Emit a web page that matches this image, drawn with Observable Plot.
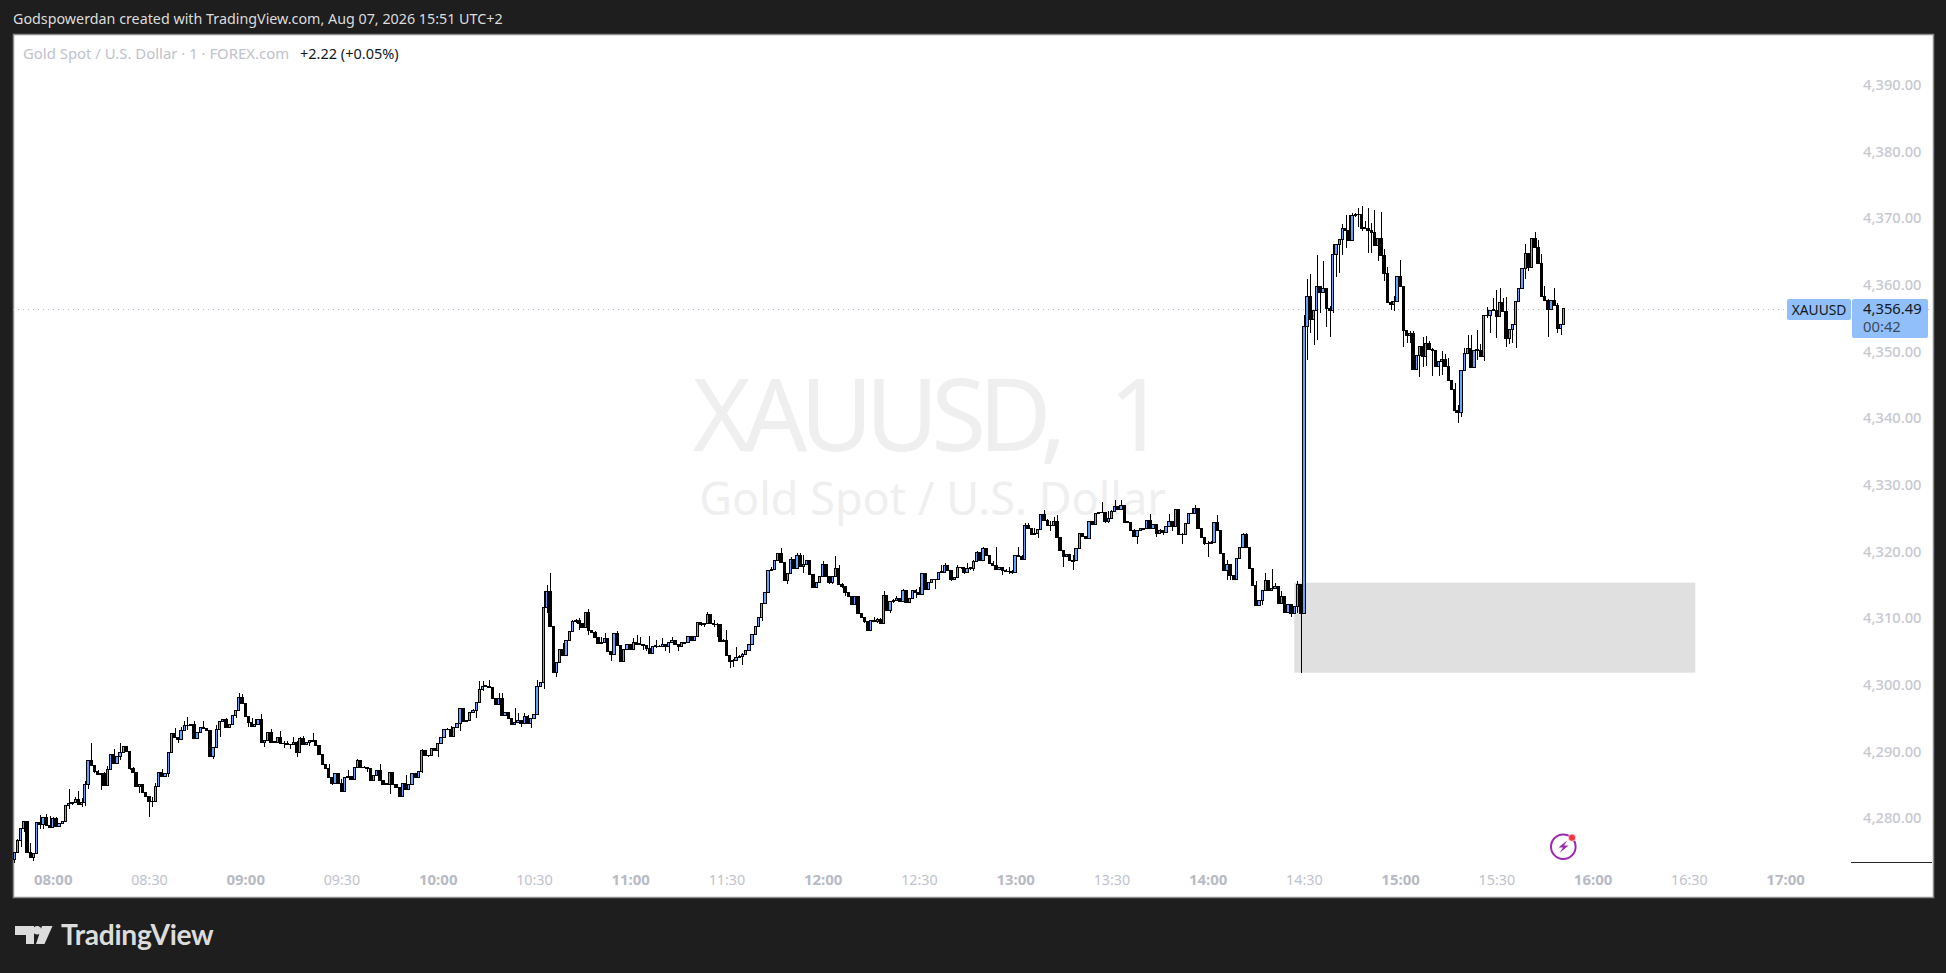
<!DOCTYPE html>
<html><head><meta charset="utf-8">
<style>
html,body{margin:0;padding:0;background:#1e1e1e;width:1946px;height:973px;overflow:hidden}
#chart{position:absolute;left:0;top:0}
.t{position:absolute;white-space:nowrap;font-family:"Noto Sans",sans-serif}
</style>
<script src="https://cdn.jsdelivr.net/npm/d3@7"></script>
<script src="https://cdn.jsdelivr.net/npm/@observablehq/plot@0.6"></script>
</head><body>
<div id="chart"></div>
<div class="t" style="left:13px;top:9px;font-size:14.3px;color:#dcdcdc">Godspowerdan created with TradingView.com, Aug 07, 2026 15:51 UTC+2</div>
<div class="t" style="left:23px;top:43px;font-size:14.9px;color:#c0c2cc">Gold Spot / U.S. Dollar · 1 · FOREX.com</div>
<div class="t" style="left:300px;top:43px;font-size:14.5px;color:#131722">+2.22 (+0.05%)</div>
<div class="t" style="left:1787px;top:299px;width:64px;height:21px;background:#90bff9;border-radius:2px;color:#131722;font-size:13.8px;line-height:21px;text-align:center">XAUUSD</div>
<div class="t" style="left:1852px;top:299px;width:76px;height:39px;background:#90bff9;border-radius:2px;color:#131722;font-size:14.8px;line-height:17.5px;padding:1px 0 0 11px;box-sizing:border-box">4,356.49<br><span style="color:#3d4a5c">00:42</span></div>
<div style="position:absolute;left:1851px;top:861.5px;width:81px;height:1.4px;background:#26282e"></div>
<svg style="position:absolute;left:1548px;top:830px" width="32" height="32" viewBox="0 0 32 32">
  <circle cx="15.3" cy="16.7" r="12.3" fill="none" stroke="#9c27b0" stroke-width="2"/>
  <path d="M19 10.5 L10.5 17.5 H15 L11.5 23 L20.5 15.5 H16 Z" fill="#9c27b0"/>
  <circle cx="24" cy="7.7" r="3.6" fill="#f23645" stroke="#fff" stroke-width="0.6"/>
</svg>
<svg style="position:absolute;left:14px;top:924px" width="40" height="22" viewBox="0 0 40 22">
  <path d="M1 2 H20 V20 H12 V11 H1 Z M28 2 H38.5 L30.5 20 H22 Z" fill="#dcdcdc"/>
  <circle cx="23.2" cy="6.2" r="4.2" fill="#dcdcdc"/>
</svg>
<div class="t" style="left:61px;top:917px;font-family:Lato,sans-serif;font-weight:700;font-size:28.2px;color:#dcdcdc;letter-spacing:-.3px">TradingView</div>
<script>
const startTime = "07:48";
const firstOpen = 4273.8;
const lastPrice = 4356.49;
const yTickValues = [4280,4290,4300,4310,4320,4330,4340,4350,4360,4370,4380,4390];
const xMajorLabels = ["08:00","09:00","10:00","11:00","12:00","13:00","14:00","15:00","16:00","17:00"];
const xMinorLabels = ["08:30","09:30","10:30","11:30","12:30","13:30","14:30","15:30","16:30"];
const zoneTimes = ["14:27","16:32"];
const zonePrices = [4315.3,4301.8];

const closes = [
4274.8,4276.6,4278.4,4279.5,4274.8,4274.1,4274.7,4279.4,4279.1,4280.1,
4278.9,4278.6,4280.0,4278.7,4279.2,4279.5,4281.9,4282.2,4282.3,4282.8,
4282.0,4282.4,4285.1,4288.7,4287.9,4287.0,4286.5,4286.7,4284.9,4287.3,
4289.5,4288.2,4289.3,4289.9,4290.7,4290.0,4287.5,4286.8,4284.8,4285.1,
4283.8,4283.3,4282.5,4282.5,4284.8,4286.8,4286.2,4286.7,4289.9,4292.7,
4292.1,4291.8,4293.2,4293.9,4293.9,4294.0,4292.0,4292.9,4293.6,4293.5,
4293.1,4289.3,4290.6,4293.3,4294.5,4294.8,4293.6,4294.0,4295.4,4296.2,
4298.1,4297.2,4295.2,4294.3,4293.7,4294.0,4294.8,4291.4,4291.6,4292.9,
4291.4,4291.4,4292.1,4291.2,4291.2,4291.0,4291.1,4291.4,4289.9,4292.0,
4291.1,4291.3,4291.6,4291.6,4290.9,4289.5,4288.1,4287.4,4286.1,4285.2,
4286.7,4285.2,4284.0,4286.1,4286.3,4285.8,4287.6,4288.6,4287.6,4287.6,
4287.4,4285.6,4286.4,4287.2,4285.6,4285.1,4285.1,4286.9,4285.1,4284.6,
4283.2,4285.2,4284.3,4285.1,4286.7,4286.1,4287.0,4290.2,4289.4,4289.4,
4290.5,4290.1,4291.2,4292.1,4293.3,4293.3,4292.2,4293.6,4294.2,4296.5,
4294.5,4294.7,4295.8,4296.1,4297.4,4299.3,4299.8,4299.8,4299.6,4297.9,
4297.1,4297.9,4295.4,4295.9,4295.0,4294.1,4294.4,4294.6,4294.2,4295.2,
4294.2,4294.9,4295.6,4299.8,4300.4,4311.6,4314.0,4308.7,4301.8,4303.3,
4305.3,4304.4,4306.7,4308.0,4309.5,4309.6,4309.2,4308.6,4310.9,4308.2,
4307.9,4307.1,4306.2,4306.3,4307.0,4305.0,4304.6,4307.7,4305.9,4303.5,
4305.3,4306.1,4305.3,4306.4,4306.1,4306.1,4305.9,4305.5,4304.7,4305.8,
4305.8,4305.7,4306.0,4305.7,4306.3,4306.6,4306.1,4305.8,4306.3,4306.3,
4307.2,4306.6,4307.2,4309.4,4309.1,4309.2,4310.6,4309.2,4309.0,4309.1,
4306.5,4306.7,4304.4,4303.5,4303.7,4304.1,4304.2,4304.5,4305.2,4306.1,
4307.5,4308.8,4310.1,4312.2,4313.9,4317.2,4317.3,4318.6,4319.7,4318.4,
4315.6,4316.7,4318.8,4317.5,4319.4,4317.7,4318.0,4318.7,4316.6,4314.6,
4315.4,4316.2,4318.0,4316.2,4315.4,4316.2,4317.4,4315.0,4314.7,4313.9,
4313.2,4312.1,4313.2,4310.7,4310.1,4309.5,4308.2,4309.7,4309.5,4309.8,
4309.2,4313.4,4311.2,4312.5,4312.7,4313.0,4312.5,4314.2,4312.3,4313.0,
4314.1,4313.8,4313.6,4316.7,4314.3,4315.4,4315.8,4315.8,4316.9,4316.9,
4317.9,4317.2,4315.8,4316.1,4317.6,4317.6,4316.9,4317.5,4317.5,4318.5,
4319.8,4318.6,4320.4,4319.4,4318.2,4317.9,4317.3,4317.6,4317.2,4317.0,
4317.0,4316.9,4319.4,4319.3,4318.8,4323.9,4323.5,4322.6,4322.7,4323.3,
4325.5,4324.7,4323.9,4323.9,4324.5,4322.1,4320.1,4319.3,4319.5,4318.6,
4318.6,4320.4,4322.7,4322.2,4321.9,4324.5,4324.0,4325.7,4325.8,4325.9,
4324.5,4325.0,4326.0,4326.8,4326.3,4326.9,4324.4,4324.4,4323.2,4322.2,
4323.2,4323.4,4323.4,4324.6,4323.4,4324.0,4322.7,4323.2,4322.9,4323.7,
4324.5,4323.7,4326.3,4322.5,4322.6,4324.2,4325.7,4325.7,4326.4,4323.5,
4322.1,4321.2,4321.2,4321.4,4324.4,4323.2,4319.7,4317.1,4318.0,4316.4,
4315.8,4319.0,4320.6,4322.5,4320.6,4317.5,4314.9,4311.9,4312.7,4314.2,
4315.7,4314.2,4314.5,4314.7,4312.2,4313.3,4310.8,4312.0,4310.7,4311.8,
4315.0,4310.7,4353.8,4358.3,4354.8,4356.2,4359.7,4358.9,4359.5,4356.4,
4356.2,4364.6,4366.1,4366.8,4368.5,4368.2,4366.7,4370.4,4370.5,4370.6,
4368.5,4368.5,4368.2,4367.9,4365.9,4367.0,4364.4,4361.7,4357.3,4357.1,
4357.5,4361.3,4359.7,4353.2,4352.4,4352.7,4347.3,4349.4,4350.8,4349.2,
4351.2,4350.3,4350.1,4347.7,4348.5,4348.8,4347.7,4345.6,4344.3,4341.1,
4340.8,4347.2,4349.7,4350.5,4347.6,4350.2,4350.2,4349.2,4355.4,4355.4,
4356.2,4356.2,4355.2,4357.3,4356.0,4351.9,4353.3,4354.0,4357.5,4359.4,
4362.5,4364.7,4362.6,4367.0,4365.6,4363.2,4358.3,4357.7,4356.3,4357.7,
4356.9,4353.5,4354.0,4356.5];

const highs = [
4274.8,4276.9,4278.4,4279.5,4279.5,4276.2,4274.7,4279.4,4280.4,4280.1,
4280.6,4280.3,4280.2,4280.2,4279.3,4279.5,4281.9,4284.3,4282.3,4283.2,
4284.0,4283.0,4285.5,4288.7,4291.2,4287.9,4287.2,4286.7,4286.9,4287.8,
4289.5,4290.3,4289.3,4291.3,4290.7,4290.8,4290.0,4287.7,4286.8,4285.1,
4285.1,4283.8,4283.3,4283.2,4285.2,4286.8,4287.4,4286.7,4289.9,4292.7,
4293.5,4292.1,4293.6,4294.5,4295.1,4294.0,4294.5,4292.9,4293.6,4294.5,
4293.5,4293.1,4290.6,4294.0,4294.5,4294.8,4295.0,4294.0,4295.4,4296.2,
4298.7,4298.6,4297.2,4295.2,4295.0,4294.8,4294.8,4295.6,4291.7,4292.9,
4293.3,4291.5,4292.1,4293.1,4291.5,4291.5,4291.1,4292.1,4291.5,4292.2,
4292.3,4291.3,4291.6,4292.7,4291.6,4290.9,4289.5,4288.1,4288.1,4286.1,
4286.7,4286.7,4285.8,4286.1,4287.2,4286.3,4287.6,4288.8,4288.6,4287.8,
4287.6,4287.4,4286.4,4287.2,4288.1,4285.6,4285.2,4286.9,4286.9,4285.1,
4284.6,4285.2,4286.5,4285.1,4286.7,4286.8,4287.0,4290.3,4290.2,4289.5,
4290.5,4290.5,4291.2,4292.1,4293.3,4293.5,4293.8,4293.6,4294.2,4296.5,
4296.5,4294.7,4295.8,4296.3,4297.4,4300.5,4300.5,4299.9,4300.7,4299.6,
4297.9,4298.7,4298.7,4295.9,4295.9,4295.0,4296.5,4295.7,4294.6,4295.7,
4295.4,4294.9,4295.6,4300.7,4300.4,4314.0,4315.0,4316.7,4308.7,4303.3,
4305.3,4306.2,4306.7,4308.0,4309.7,4309.8,4310.0,4309.2,4310.9,4311.4,
4308.2,4308.0,4307.1,4307.2,4307.7,4307.0,4305.0,4307.7,4308.1,4305.9,
4305.3,4306.1,4306.1,4307.0,4307.5,4307.2,4306.1,4305.9,4307.3,4305.8,
4306.7,4306.0,4307.0,4306.0,4306.3,4307.1,4306.6,4306.1,4306.3,4306.4,
4307.2,4307.3,4307.3,4309.4,4309.4,4309.3,4310.9,4310.6,4309.7,4309.2,
4309.1,4306.8,4308.2,4304.4,4303.8,4305.6,4304.5,4304.7,4305.2,4306.1,
4307.5,4308.8,4310.1,4312.2,4313.9,4317.2,4317.6,4318.6,4319.8,4320.5,
4318.4,4316.7,4319.1,4318.8,4319.8,4319.7,4319.5,4318.7,4318.7,4316.6,
4315.4,4316.2,4318.5,4318.0,4316.2,4316.2,4319.3,4318.0,4315.2,4314.8,
4313.9,4313.2,4313.2,4313.3,4310.7,4310.1,4309.5,4309.7,4310.2,4310.0,
4310.0,4314.0,4313.4,4312.5,4312.8,4313.3,4313.0,4314.3,4314.2,4313.0,
4314.1,4314.3,4314.6,4316.7,4316.7,4315.4,4315.8,4315.9,4316.9,4317.9,
4318.2,4317.9,4317.2,4316.2,4318.0,4317.7,4317.6,4318.2,4317.6,4318.7,
4320.0,4319.7,4320.6,4320.5,4319.4,4318.5,4320.7,4317.7,4317.6,4317.3,
4317.6,4317.2,4319.4,4320.6,4319.4,4324.2,4324.2,4323.5,4323.5,4323.3,
4325.5,4326.2,4324.8,4324.6,4325.1,4325.5,4322.1,4320.1,4319.6,4319.6,
4319.5,4320.4,4322.7,4322.8,4322.2,4324.5,4324.5,4325.7,4325.9,4327.4,
4325.9,4326.0,4326.2,4327.7,4326.8,4327.7,4326.9,4324.6,4324.4,4323.4,
4323.2,4323.5,4323.5,4324.6,4325.6,4324.0,4324.0,4323.3,4323.2,4323.7,
4325.6,4324.5,4326.3,4326.3,4322.7,4324.2,4325.7,4326.5,4326.9,4326.4,
4323.5,4322.1,4321.5,4321.5,4324.4,4325.4,4323.2,4319.7,4318.7,4318.0,
4316.4,4319.0,4320.6,4322.7,4322.7,4320.6,4317.5,4315.5,4312.7,4314.2,
4316.7,4315.7,4317.3,4315.2,4314.7,4314.0,4313.3,4312.0,4311.8,4311.8,
4315.5,4315.0,4355.5,4360.8,4361.6,4356.2,4364.5,4359.7,4363.6,4359.5,
4356.8,4366.1,4366.1,4366.8,4369.1,4370.5,4370.5,4370.7,4370.7,4371.5,
4371.8,4369.5,4371.5,4369.3,4371.2,4367.0,4370.9,4365.3,4362.6,4357.5,
4358.3,4361.3,4363.7,4359.7,4353.2,4353.0,4353.1,4349.4,4350.8,4352.2,
4352.3,4351.5,4350.5,4350.2,4348.5,4350.0,4349.6,4349.0,4345.6,4345.2,
4342.0,4347.2,4350.5,4352.4,4352.5,4350.2,4353.2,4351.1,4355.4,4356.7,
4356.2,4358.0,4359.2,4359.5,4358.0,4358.2,4353.3,4354.0,4357.5,4359.4,
4362.5,4366.1,4364.7,4367.0,4367.9,4366.7,4364.6,4359.8,4357.8,4357.7,
4359.5,4357.2,4354.0,4356.5];

const lows = [
4273.3,4274.7,4275.7,4277.9,4274.8,4274.1,4273.6,4274.7,4278.4,4278.3,
4278.9,4278.6,4278.6,4278.6,4278.6,4279.1,4279.5,4281.4,4281.9,4282.2,
4282.0,4281.7,4281.8,4284.4,4287.9,4286.8,4286.5,4284.2,4284.9,4284.9,
4287.3,4288.2,4288.2,4288.7,4289.9,4290.0,4287.2,4286.8,4284.8,4283.8,
4283.8,4283.3,4280.2,4281.7,4282.5,4284.8,4286.2,4286.2,4286.1,4289.9,
4292.1,4291.3,4291.8,4293.2,4293.2,4293.8,4291.8,4292.1,4292.9,4293.5,
4293.1,4289.3,4288.9,4290.6,4292.2,4294.5,4293.6,4293.6,4294.0,4295.0,
4296.2,4297.2,4295.2,4293.7,4293.7,4293.7,4294.0,4291.3,4290.6,4291.6,
4291.4,4291.3,4291.4,4291.2,4290.5,4291.0,4290.3,4291.1,4289.2,4289.9,
4291.1,4291.0,4290.8,4291.5,4290.9,4289.5,4288.1,4287.4,4286.1,4284.9,
4285.2,4285.2,4284.0,4284.0,4286.1,4285.8,4285.8,4287.6,4287.6,4287.5,
4286.9,4285.6,4285.6,4286.4,4285.6,4285.1,4285.0,4283.6,4285.1,4284.6,
4283.2,4283.1,4284.3,4284.3,4285.1,4286.1,4286.1,4286.7,4289.4,4289.2,
4289.3,4290.1,4289.2,4291.2,4292.1,4293.2,4292.2,4292.2,4293.6,4293.0,
4294.5,4294.5,4294.7,4295.7,4295.0,4297.4,4299.0,4299.6,4299.6,4297.9,
4297.1,4297.1,4295.4,4295.4,4295.0,4294.1,4293.9,4294.4,4293.6,4294.2,
4294.2,4293.5,4294.9,4295.6,4299.8,4299.3,4310.8,4308.7,4301.8,4301.1,
4303.3,4304.4,4304.4,4306.7,4308.0,4309.2,4308.2,4308.6,4308.6,4307.5,
4307.7,4307.1,4306.1,4306.1,4306.2,4305.0,4303.6,4304.6,4305.9,4303.5,
4303.5,4305.3,4305.3,4305.3,4306.1,4306.0,4305.2,4305.0,4304.7,4304.7,
4305.5,4305.6,4305.6,4305.0,4304.8,4306.3,4306.1,4305.0,4305.8,4306.2,
4306.3,4306.6,4306.6,4307.2,4308.8,4308.7,4309.2,4309.2,4308.7,4307.2,
4306.5,4306.4,4304.4,4302.5,4302.7,4303.7,4304.0,4302.9,4304.5,4305.1,
4306.1,4307.5,4308.8,4309.5,4312.2,4313.9,4317.2,4317.3,4318.5,4318.4,
4315.6,4315.1,4316.6,4317.5,4317.5,4317.7,4316.8,4317.9,4316.6,4314.6,
4314.6,4315.4,4316.2,4316.2,4315.1,4315.1,4316.2,4315.0,4314.5,4313.3,
4313.1,4312.1,4312.1,4310.7,4310.1,4309.2,4308.1,4308.3,4309.5,4309.3,
4309.2,4309.2,4311.2,4310.7,4312.2,4312.6,4312.4,4312.4,4312.3,4312.3,
4313.0,4313.0,4313.6,4313.6,4314.3,4314.3,4315.2,4314.4,4315.8,4316.8,
4316.9,4317.2,4315.5,4315.9,4316.1,4317.4,4316.6,4316.9,4317.2,4317.0,
4318.4,4318.6,4318.7,4319.4,4318.1,4317.8,4317.3,4317.2,4316.5,4317.0,
4316.6,4316.6,4316.9,4319.2,4318.7,4318.7,4323.5,4322.6,4322.5,4322.0,
4323.2,4324.7,4323.9,4323.0,4323.9,4322.1,4320.1,4317.6,4319.2,4318.5,
4317.2,4318.6,4320.4,4322.2,4321.8,4321.9,4324.0,4324.0,4325.7,4325.8,
4324.3,4324.2,4324.9,4326.0,4326.2,4326.2,4324.4,4324.2,4323.2,4322.2,
4321.1,4323.1,4323.3,4323.4,4323.4,4323.4,4322.2,4322.7,4322.5,4322.9,
4323.7,4323.1,4323.7,4322.5,4321.1,4322.6,4324.2,4325.6,4325.6,4323.5,
4322.0,4321.0,4319.2,4321.1,4321.3,4323.2,4319.6,4317.1,4315.7,4315.7,
4315.8,4315.8,4319.0,4320.6,4320.6,4317.5,4314.9,4311.9,4311.9,4312.0,
4314.2,4314.2,4314.2,4314.5,4312.2,4312.2,4310.7,4310.8,4310.2,4310.7,
4310.7,4301.7,4310.7,4348.7,4352.7,4351.0,4351.7,4355.8,4358.9,4353.6,
4352.2,4355.7,4361.2,4361.7,4364.5,4365.5,4366.7,4366.7,4370.2,4368.7,
4368.1,4368.3,4364.7,4364.8,4365.9,4363.6,4364.4,4360.6,4357.3,4356.2,
4356.0,4357.5,4359.7,4350.7,4351.3,4351.3,4347.3,4347.3,4346.1,4347.7,
4347.8,4350.2,4346.3,4347.7,4346.3,4346.5,4347.7,4345.6,4344.3,4340.8,
4339.2,4340.2,4347.2,4349.7,4347.6,4347.6,4348.7,4349.2,4348.5,4355.0,
4352.8,4356.1,4352.0,4355.2,4356.0,4350.7,4351.1,4351.2,4350.5,4357.5,
4359.4,4360.8,4362.0,4362.6,4365.6,4363.2,4358.3,4357.7,4352.1,4356.3,
4356.9,4352.7,4352.4,4354.0];

const toMinutes = s => { const [h,m] = s.split(":").map(Number); return h*60+m; };
const fromMinutes = v => String(Math.floor(v/60)).padStart(2,"0")+":"+String(v%60).padStart(2,"0");
const t0 = toMinutes(startTime);
const halfBody = 0.36;
const candles = closes.map((close,i)=>{
  const open = i ? closes[i-1] : firstOpen;
  const same = open===close;
  return {
    t:t0+i, open, close, high:highs[i], low:lows[i],
    top: same ? close+0.05 : Math.max(open,close),
    bottom: same ? close-0.05 : Math.min(open,close),
    up: close>=open
  };
});
const uiFont = '"Noto Sans",sans-serif';
const spaced = (ls,ws) => (i,s,v,d,c,next)=>{const g=next(i,s,v,d,c); g.style.letterSpacing=ls; g.style.wordSpacing=ws; return g;};

const chart = Plot.plot({
  width:1946, height:973,
  marginLeft:13, marginRight:13, marginTop:34, marginBottom:76,
  style:{background:"#1e1e1e",fontFamily:uiFont},
  x:{type:"linear",domain:[467.62,1066.1]},
  y:{type:"linear",domain:[4268.15,4397.6]},
  marks:[
    Plot.frame({fill:"#ffffff",stroke:"#8c8c8c",strokeWidth:1.5}),
    Plot.text(["XAUUSD, 1"],{frameAnchor:"top-left",dx:912,dy:384,textAnchor:"middle",lineAnchor:"middle",fontSize:100,fill:"#efefef",fontFamily:uiFont,render:spaced("-7.5px","31px")}),
    Plot.text(["Gold Spot / U.S. Dollar"],{frameAnchor:"top-left",dx:919,dy:466,textAnchor:"middle",lineAnchor:"middle",fontSize:45,fill:"#efefef",fontFamily:uiFont}),
    Plot.rect([0],{x1:()=>toMinutes(zoneTimes[0]),x2:()=>toMinutes(zoneTimes[1]),y1:()=>zonePrices[0],y2:()=>zonePrices[1],fill:"#e0e0e0"}),
    Plot.ruleY([lastPrice],{stroke:"#a9b8d4",strokeWidth:1,strokeDasharray:"1 4",dy:1}),
    Plot.ruleX(candles,{x:"t",y1:"low",y2:"high",stroke:"#000",strokeWidth:1,shapeRendering:"crispEdges"}),
    Plot.rect(candles,{x1:d=>d.t-halfBody,x2:d=>d.t+halfBody,y1:"bottom",y2:"top",fill:d=>d.up?"#64a5fa":"#000",stroke:"#000",strokeWidth:1,shapeRendering:"crispEdges"}),
    Plot.axisY({anchor:"right",ticks:yTickValues,tickSize:0,tickPadding:-12,textAnchor:"end",label:null,tickFormat:d3.format(",.2f"),fill:"#c6c8d0",fontSize:14.7,fontWeight:500,fontFamily:uiFont}),
    Plot.axisX({anchor:"bottom",ticks:xMajorLabels.map(toMinutes),tickSize:0,tickPadding:-17,lineAnchor:"middle",label:null,tickFormat:fromMinutes,fill:"#b8bac4",fontSize:15,fontWeight:700,fontFamily:uiFont}),
    Plot.axisX({anchor:"bottom",ticks:xMinorLabels.map(toMinutes),tickSize:0,tickPadding:-17,lineAnchor:"middle",label:null,tickFormat:fromMinutes,fill:"#c0c2cb",fontSize:14.3,fontFamily:uiFont})
  ]
});
document.getElementById("chart").append(chart);
</script>
</body></html>
